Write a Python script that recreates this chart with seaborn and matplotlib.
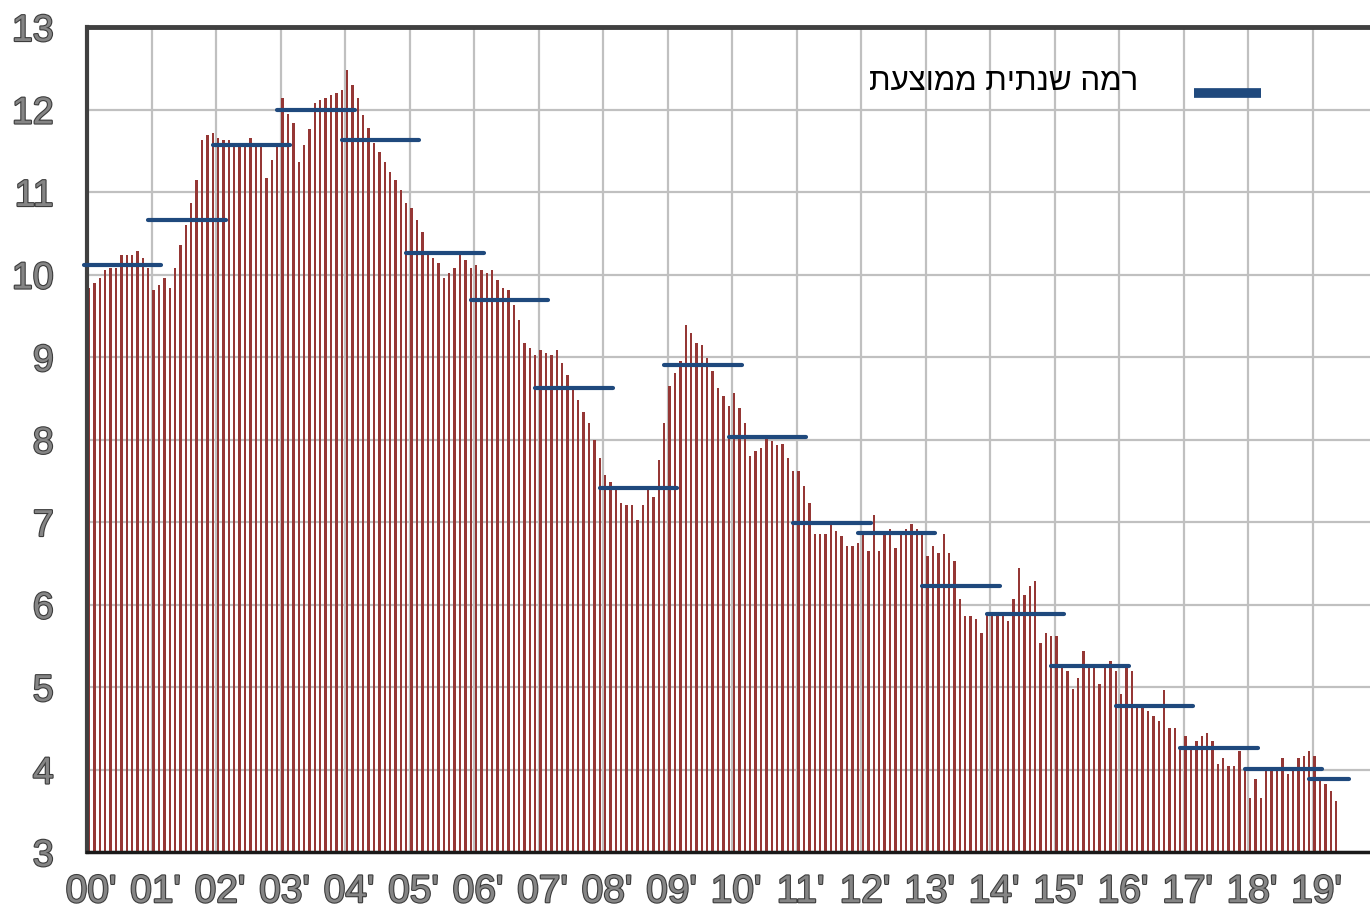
import numpy as np
import pandas as pd
import matplotlib
matplotlib.use("Agg")
import matplotlib.pyplot as plt
import matplotlib.patheffects as pe
from matplotlib.lines import Line2D
from matplotlib.transforms import ScaledTranslation
import seaborn as sns

# Monthly level, Jan 2000 - May 2019 (percent)
rates_2000 = [9.84, 9.90, 9.96, 10.05, 10.08, 10.08, 10.24, 10.24, 10.24, 10.29, 10.20, 10.08]
rates_2001 = [9.81, 9.87, 9.96, 9.84, 10.08, 10.36, 10.60, 10.87, 11.15, 11.63, 11.69, 11.72]
rates_2002 = [11.66, 11.63, 11.63, 11.57, 11.57, 11.57, 11.66, 11.57, 11.57, 11.17, 11.39, 11.57]
rates_2003 = [12.14, 11.95, 11.84, 11.36, 11.57, 11.76, 12.08, 12.12, 12.14, 12.17, 12.20, 12.24]
rates_2004 = [12.48, 12.30, 12.14, 11.93, 11.78, 11.60, 11.48, 11.36, 11.24, 11.15, 11.02, 10.87]
rates_2005 = [10.81, 10.66, 10.51, 10.26, 10.20, 10.14, 9.96, 10.02, 10.08, 10.24, 10.18, 10.08]
rates_2006 = [10.12, 10.05, 10.02, 10.05, 9.93, 9.84, 9.81, 9.63, 9.45, 9.17, 9.11, 9.02]
rates_2007 = [9.08, 9.05, 9.02, 9.08, 8.93, 8.78, 8.63, 8.48, 8.33, 8.20, 7.99, 7.78]
rates_2008 = [7.57, 7.48, 7.41, 7.23, 7.21, 7.21, 7.02, 7.21, 7.39, 7.30, 7.75, 8.20]
rates_2009 = [8.65, 8.80, 8.95, 9.39, 9.29, 9.17, 9.15, 8.99, 8.83, 8.62, 8.53, 8.41]
rates_2010 = [8.56, 8.38, 8.20, 7.80, 7.86, 7.90, 8.02, 7.98, 7.93, 7.95, 7.77, 7.62]
rates_2011 = [7.62, 7.44, 7.23, 6.86, 6.86, 6.86, 6.96, 6.89, 6.83, 6.71, 6.71, 6.74]
rates_2012 = [6.86, 6.65, 7.08, 6.65, 6.86, 6.92, 6.68, 6.86, 6.92, 6.98, 6.92, 6.86]
rates_2013 = [6.59, 6.71, 6.62, 6.86, 6.62, 6.53, 6.07, 5.86, 5.86, 5.83, 5.65, 5.89]
rates_2014 = [5.86, 5.86, 5.86, 5.80, 6.07, 6.44, 6.11, 6.23, 6.29, 5.53, 5.65, 5.62]
rates_2015 = [5.62, 5.23, 5.19, 4.98, 5.11, 5.44, 5.23, 5.23, 5.04, 5.23, 5.32, 5.19]
rates_2016 = [4.92, 5.23, 5.19, 4.77, 4.75, 4.71, 4.65, 4.59, 4.96, 4.50, 4.50, 4.26]
rates_2017 = [4.41, 4.26, 4.35, 4.41, 4.44, 4.35, 4.07, 4.14, 4.04, 4.04, 4.22, 4.00]
rates_2018 = [3.65, 3.89, 3.65, 3.98, 3.98, 3.98, 4.14, 3.95, 4.01, 4.14, 4.16, 4.22]
rates_2019 = [4.16, 3.89, 3.83, 3.74, 3.62]

# Annual average level
annual_avg = [10.12, 10.66, 11.57, 12.00, 11.63, 10.26, 9.69, 8.63, 7.41, 8.90,
              8.03, 6.99, 6.87, 6.23, 5.89, 5.26, 4.77, 4.26, 4.01, 3.89]

year_labels = ["00'", "01'", "02'", "03'", "04'", "05'", "06'", "07'", "08'", "09'",
               "10'", "11'", "12'", "13'", "14'", "15'", "16'", "17'", "18'", "19'"]
legend_label = "רמה שנתית ממוצעת"

yearly = [rates_2000, rates_2001, rates_2002, rates_2003, rates_2004, rates_2005,
          rates_2006, rates_2007, rates_2008, rates_2009, rates_2010, rates_2011,
          rates_2012, rates_2013, rates_2014, rates_2015, rates_2016, rates_2017,
          rates_2018, rates_2019]

# month index counted from Jan 2000; bars sit just right of each month start
rows = []
for y, vals in enumerate(yearly):
    for m, v in enumerate(vals):
        rows.append({"month": y * 12 + m + 0.4, "rate": v})
df = pd.DataFrame(rows)

BAR = "#953735"
AVG = "#1f497d"
GRID = "#c0c0c0"
AXIS = "#404040"

sns.set_style("white")
plt.rcParams["font.family"] = ["Liberation Sans", "DejaVu Sans"]

fig = plt.figure(figsize=(13.7, 9.1), dpi=100)
ax = fig.add_axes([87 / 1370, 58 / 910, 1 - 87 / 1370, 825 / 910])

sns.barplot(data=df, x="month", y="rate", native_scale=True, width=0.44,
            color=BAR, saturation=1, linewidth=0, errorbar=None, ax=ax)

# annual average segments
for y, (vals, avg) in enumerate(zip(yearly, annual_avg)):
    start = y * 12
    end = start + len(vals) - 1
    ax.plot([start - 0.6, end + 2.8], [avg, avg], color=AVG, lw=3.0,
            solid_capstyle="round", clip_on=False, zorder=4)

ax.set_ylim(3, 13)
ax.set_xlim(0, (1370 - 87) / 5.375)
ax.set_yticks(range(3, 14))
ax.set_xticks([12 * i for i in range(len(year_labels))])
ax.set_xticklabels(year_labels)
ax.set_xlabel("")
ax.set_ylabel("")

ax.set_axisbelow(True)
ax.grid(True, color=GRID, lw=1.6)

ax.spines["right"].set_visible(False)
ax.spines["top"].set_color(AXIS)
ax.spines["top"].set_linewidth(3.5)
ax.spines["left"].set_color(AXIS)
ax.spines["left"].set_linewidth(3.0)
ax.spines["bottom"].set_color("#1a1a1a")
ax.spines["bottom"].set_linewidth(2.5)

ax.tick_params(axis="x", direction="out", length=8, width=1.8, color="#1a1a1a", pad=8)
ax.tick_params(axis="y", direction="out", length=9, width=1.8, color=AXIS, pad=15)

outline = [pe.withStroke(linewidth=1.6, foreground="#3c3c3c")]
shift = ScaledTranslation(4 / 100, 0, fig.dpi_scale_trans)
for lab in ax.get_xticklabels():
    lab.set_fontsize(28)
    lab.set_color("#858585")
    lab.set_path_effects(outline)
    lab.set_transform(lab.get_transform() + shift)
for lab in ax.get_yticklabels():
    lab.set_fontsize(27)
    lab.set_color("#858585")
    lab.set_path_effects(outline)

# legend: label on the left, swatch on the right
fig.text(1138 / 1370, 1 - 82 / 910, legend_label[::-1], ha="right", va="center",
         fontsize=22.5, color="black", family=["Liberation Sans", "DejaVu Sans"])
fig.add_artist(Line2D([1194 / 1370, 1261 / 1370], [1 - 92.5 / 910, 1 - 92.5 / 910],
                      color=AVG, lw=7, solid_capstyle="butt", transform=fig.transFigure))

fig.savefig("out.png", dpi=100)
